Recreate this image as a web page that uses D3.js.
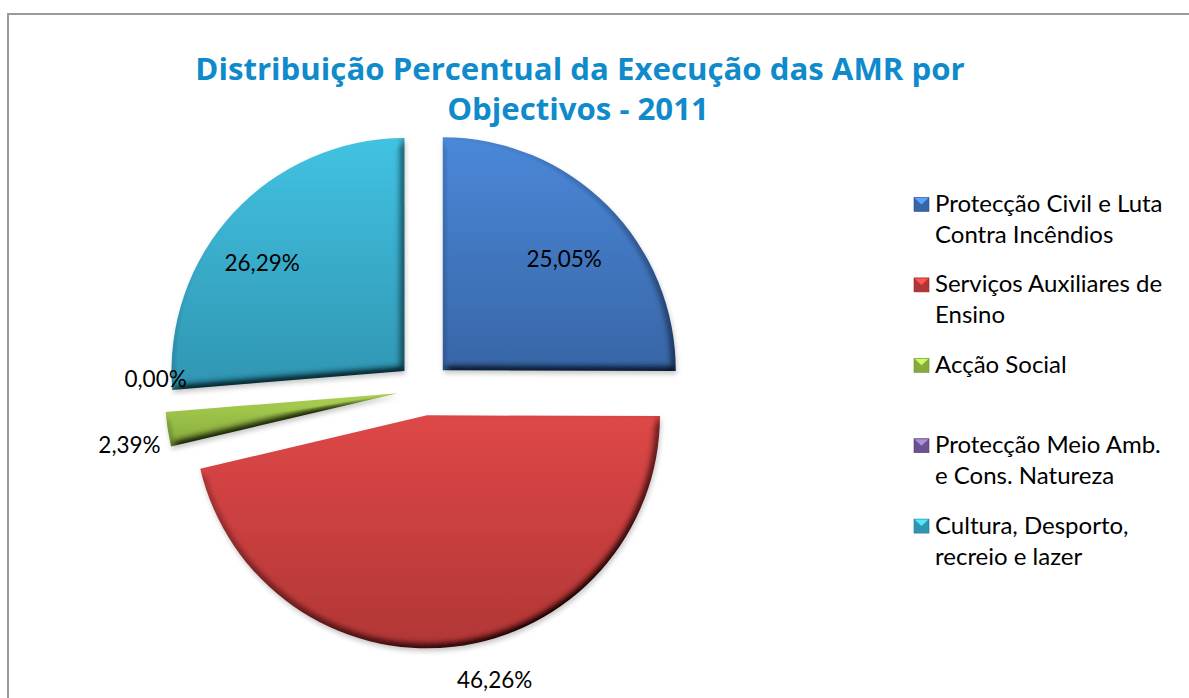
<!DOCTYPE html>
<html>
<head>
<meta charset="utf-8">
<script src="https://cdn.jsdelivr.net/npm/d3@7"></script>
<style>
  html, body { margin: 0; padding: 0; background: #fff; }
  svg { display: block; }
</style>
</head>
<body>
<script>
// data
const categories = [
  "Protecção Civil e Luta\nContra Incêndios",
  "Serviços Auxiliares de\nEnsino",
  "Acção Social",
  "Protecção Meio Amb.\ne Cons. Natureza",
  "Cultura, Desporto,\nrecreio e lazer"
];
const values = [25.05, 46.26, 2.39, 0.00, 26.29];
const titleLines = ["Distribuição Percentual da Execução das AMR por", "Objectivos - 2011"];

// colours: [top, bottom] of each slice gradient
const colors = [
  ["#4b88d9", "#3865a6"],
  ["#de4747", "#b23636"],
  ["#abd152", "#86ab3c"],
  ["#9277b8", "#6a5190"],
  ["#42c2e2", "#2f95b2"]
];

// where Excel dropped the labels (radius factor, angle nudge in degrees)
const labelRadius = [0.707, 1.173, 1.173, 1.04, 0.768];
const labelNudge = [2.4, -7.8, -2, 7.6, -5.4];

const width = 1189, height = 698;
const cx = 424, cy = 389, R = 233, explode = 26.5;
const fmt = v => d3.format(".2f")(v).replace(".", ",") + "%";

const svg = d3.select("body").append("svg")
    .attr("width", width)
    .attr("height", height)
    .attr("font-family", "Lato, 'Open Sans', sans-serif");

const defs = svg.append("defs");

colors.forEach((c, i) => {
  const g = defs.append("linearGradient")
      .attr("id", "grad" + i)
      .attr("x1", 0).attr("y1", 0).attr("x2", 0).attr("y2", 1);
  g.append("stop").attr("offset", "0%").attr("stop-color", c[0]);
  g.append("stop").attr("offset", "100%").attr("stop-color", c[1]);
});

// bevel + soft shadow
const f = defs.append("filter")
    .attr("id", "bevel")
    .attr("x", "-10%").attr("y", "-10%")
    .attr("width", "125%").attr("height", "125%");
f.append("feGaussianBlur").attr("in", "SourceAlpha").attr("stdDeviation", 4).attr("result", "blur");
f.append("feDiffuseLighting")
    .attr("in", "blur")
    .attr("surfaceScale", 9)
    .attr("diffuseConstant", 1.155)
    .attr("lighting-color", "#fff")
    .attr("result", "light")
  .append("feDistantLight").attr("azimuth", 240).attr("elevation", 60);
f.append("feComposite")
    .attr("in", "SourceGraphic").attr("in2", "light")
    .attr("operator", "arithmetic")
    .attr("k1", 1).attr("k2", 0).attr("k3", 0).attr("k4", 0)
    .attr("result", "lit");
f.append("feGaussianBlur").attr("in", "SourceAlpha").attr("stdDeviation", 2.5).attr("result", "sblur");
f.append("feOffset").attr("in", "sblur").attr("dx", 1).attr("dy", 3).attr("result", "soff");
f.append("feFlood").attr("flood-color", "#000").attr("flood-opacity", 0.22).attr("result", "sc");
f.append("feComposite").attr("in", "sc").attr("in2", "soff").attr("operator", "in").attr("result", "shadow");
const m = f.append("feMerge");
m.append("feMergeNode").attr("in", "shadow");
m.append("feMergeNode").attr("in", "lit");

// frame
svg.append("rect")
    .attr("x", 8).attr("y", 14)
    .attr("width", width + 20).attr("height", height + 20)
    .attr("fill", "#fff")
    .attr("stroke", "#9b9b9b")
    .attr("stroke-width", 2);

// title
svg.append("g")
    .attr("font-family", "'Open Sans', Lato, sans-serif")
    .attr("font-weight", "bold")
    .attr("font-size", 31.2)
    .attr("fill", "#0f8bcc")
    .attr("text-anchor", "middle")
  .selectAll("text")
  .data(titleLines)
  .join("text")
    .attr("x", (d, i) => i ? 578 : 580)
    .attr("y", (d, i) => 80 + i * 40)
    .text(d => d);

// pie
const pie = d3.pie().sort(null).value(d => d);
const arcs = pie(values);
const arc = d3.arc().innerRadius(0).outerRadius(R);
const mid = d => (d.startAngle + d.endAngle) / 2;
const shift = d => `translate(${explode * Math.sin(mid(d))},${-explode * Math.cos(mid(d))})`;

const g = svg.append("g")
    .attr("transform", `translate(${cx},${cy})`);

g.append("g")
  .selectAll("path")
  .data(arcs)
  .join("path")
    .attr("transform", shift)
    .attr("d", arc)
    .attr("fill", (d, i) => `url(#grad${i})`)
    .attr("filter", "url(#bevel)");

g.append("g")
    .attr("font-size", 22.5)
    .attr("fill", "#000")
    .attr("text-anchor", "middle")
  .selectAll("text")
  .data(arcs)
  .join("text")
    .attr("dy", "0.35em")
    .attr("transform", (d, i) => {
      const a = mid(d) + labelNudge[i] * Math.PI / 180;
      const r = labelRadius[i] * R;
      return `${shift(d)} translate(${r * Math.sin(a)},${-r * Math.cos(a)})`;
    })
    .text(d => fmt(d.data));

// legend
const legend = svg.append("g")
    .attr("font-size", 24)
  .selectAll("g")
  .data(categories)
  .join("g")
    .attr("transform", (d, i) => `translate(914,${212 + i * 80.4})`);

legend.append("rect")
    .attr("x", 0).attr("y", -14.5)
    .attr("width", 15).attr("height", 14)
    .attr("fill", (d, i) => colors[i][1])
    .attr("stroke", (d, i) => d3.color(colors[i][1]).darker(0.6))
    .attr("stroke-width", 0.6);

legend.append("path")
    .attr("d", "M0.5,-14L14.5,-14L7.5,-7.5Z")
    .attr("fill", (d, i) => d3.color(colors[i][0]).brighter(0.5));

legend.append("text")
    .attr("fill", "#000")
  .selectAll("tspan")
  .data(d => d.split("\n"))
  .join("tspan")
    .attr("x", 21)
    .attr("y", (d, i) => i * 31)
    .text(d => d);
</script>
</body>
</html>
